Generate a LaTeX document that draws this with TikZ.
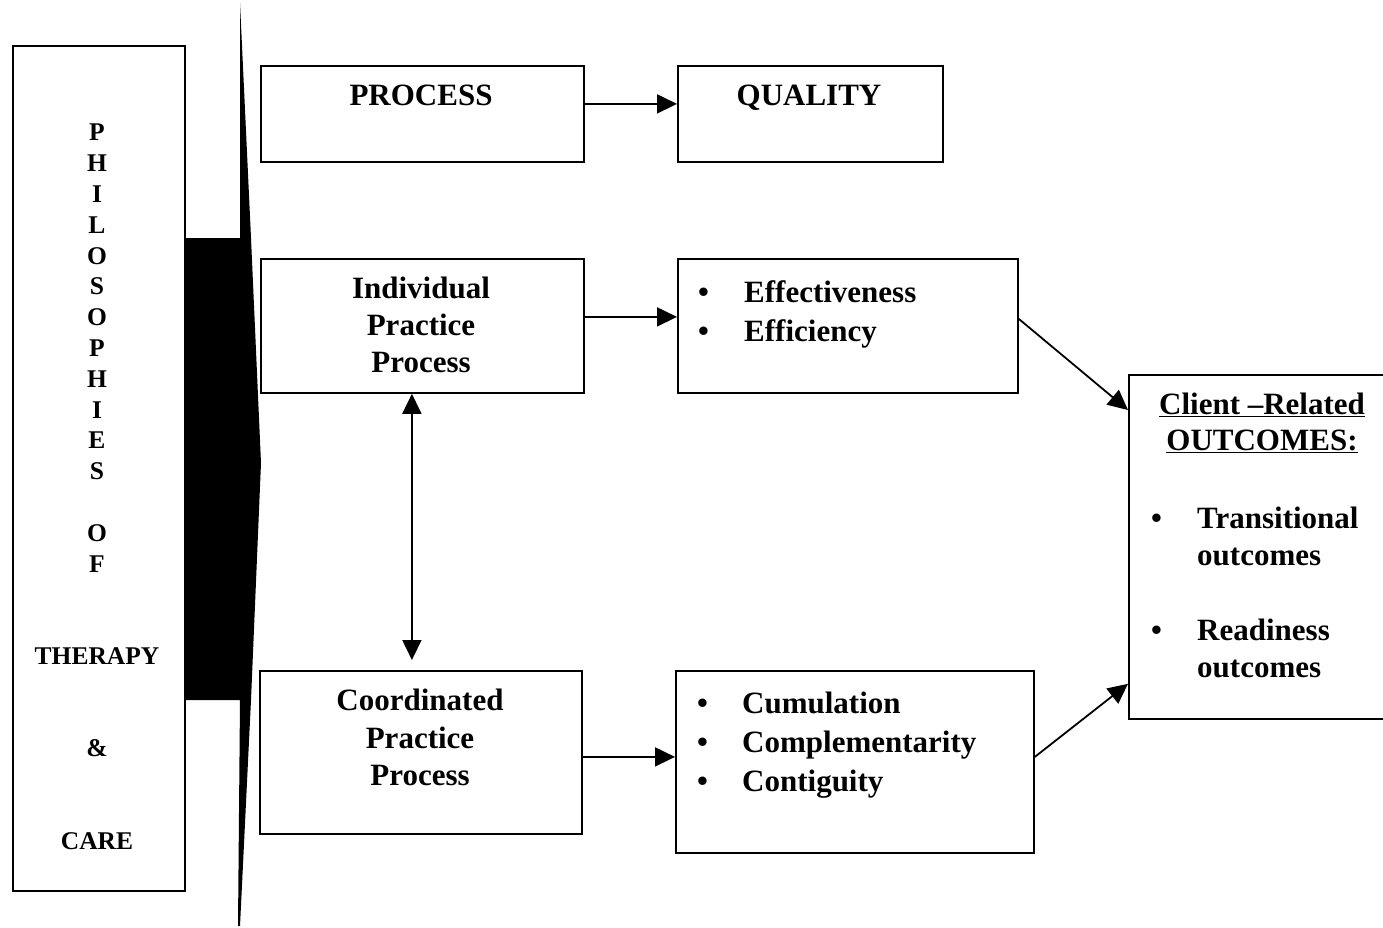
\documentclass[tikz,border=0pt]{standalone}
\usepackage{fontspec}
\setmainfont{Liberation Serif}
\usetikzlibrary{arrows.meta}
\newcommand\bitem[1]{\makebox[46pt][l]{\textbullet}#1}
\begin{document}
\begin{tikzpicture}[x=1pt,y=-1pt,
  box/.style={draw, line width=1.8pt, inner sep=0pt, anchor=north west},
  txt/.style={font=\fontsize{31}{37}\selectfont\bfseries, inner sep=0pt, align=center, anchor=north},
  ltxt/.style={font=\fontsize{31}{39}\selectfont\bfseries, inner sep=0pt, align=left, anchor=north west},
  arr/.style={line width=1.8pt, -{Triangle[length=20pt,width=19pt]}},
  darr/.style={line width=1.8pt, {Triangle[length=20pt,width=19pt]}-{Triangle[length=20pt,width=19pt]}}]
\useasboundingbox (0,0) rectangle (1383,927);

% left column
\node[box, minimum width=172pt, minimum height=845pt] (phil) at (12,45) {};
\node[font=\fontsize{25.5}{30.8}\selectfont\bfseries, inner sep=0pt, align=center, anchor=north] (philT) at (97,124)
  {P\\H\\I\\L\\O\\S\\O\\P\\H\\I\\E\\S\\[30.8pt]O\\F\\[61.6pt]THERAPY\\[61.6pt]\&\\[61.6pt]CARE};

% black bar with arrow-shaped edge
\fill (240,3) -- (251,238) -- (261,463) -- (251,700) -- (240,926) -- (238,926)
  -- (240,700) -- (184,700) -- (184,238) -- (240,238) -- cycle;

% boxes
\node[box, minimum width=323pt, minimum height=96pt] (proc) at (260,65) {};
\node[box, minimum width=265pt, minimum height=96pt] (qual) at (677,65) {};
\node[box, minimum width=323pt, minimum height=134pt] (indiv) at (260,258) {};
\node[box, minimum width=340pt, minimum height=134pt] (eff) at (677,258) {};
\node[box, minimum width=322pt, minimum height=163pt] (coord) at (259,670) {};
\node[box, minimum width=358pt, minimum height=182pt] (cum) at (675,670) {};
\node[box, minimum width=270pt, minimum height=344pt] (client) at (1128,374) {};

% box texts
\node[txt] (procT) at (421,85) {PROCESS};
\node[txt] (qualT) at (809,85) {QUALITY};
\node[txt] (indivT) at (421,277) {Individual\\Practice\\Process};
\node[txt, font=\fontsize{31}{37.5}\selectfont\bfseries] (coordT) at (420,689) {Coordinated\\Practice\\Process};
\node[ltxt] (effT) at (698,280) {\bitem{Effectiveness}\\\bitem{Efficiency}};
\node[ltxt] (cumT) at (697,692) {\makebox[45pt][l]{\textbullet}Cumulation\\\makebox[45pt][l]{\textbullet}Complementarity\\\makebox[45pt][l]{\textbullet}Contiguity};
\node[txt, font=\fontsize{31}{36}\selectfont\bfseries] (clientT) at (1262,393) {\underline{Client --Related}\\\underline{OUTCOMES:}};
\node[ltxt, font=\fontsize{31}{36.5}\selectfont\bfseries] (transT) at (1151,507) {\bitem{Transitional}\\\makebox[46pt]{}outcomes};
\node[ltxt, font=\fontsize{31}{36.5}\selectfont\bfseries] (readT) at (1151,619) {\bitem{Readiness}\\\makebox[46pt]{}outcomes};

% connectors
\draw[arr] ([yshift=10pt]proc.east) -- ([yshift=10pt]qual.west);
\draw[arr] ([yshift=9pt]indiv.east) -- ([yshift=9pt]eff.west);
\draw[arr] ([yshift=-4.5pt]coord.east) -- ([yshift=5pt]cum.west);
\draw[darr] ([xshift=-10.5pt]indiv.south) -- ([xshift=-9pt,yshift=10pt]coord.north);
\draw[arr] ([yshift=7pt]eff.east) -- ([yshift=-36pt]client.north west);
\draw[arr] ([yshift=5pt]cum.east) -- ([yshift=36pt]client.south west);
\end{tikzpicture}
\end{document}
